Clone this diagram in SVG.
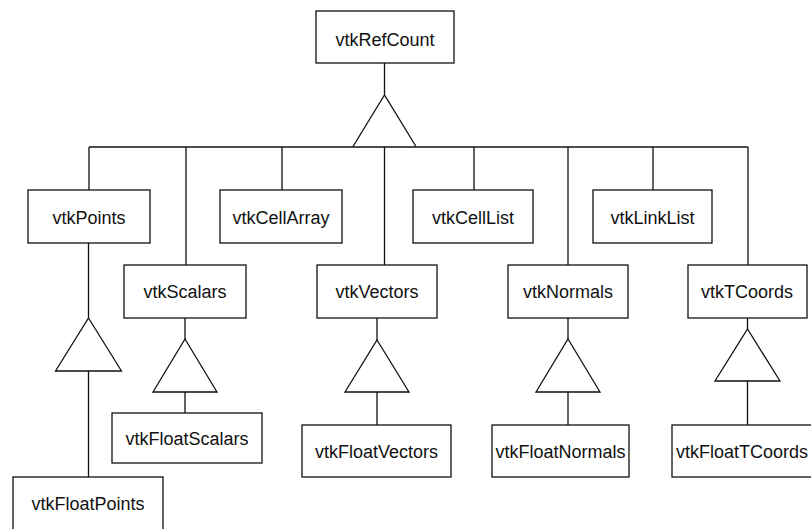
<svg xmlns="http://www.w3.org/2000/svg" width="811" height="529" viewBox="0 0 811 529">
<style>
  .box { fill: #ffffff; stroke: #111111; stroke-width: 1.3; }
  .ln { fill: none; stroke: #111111; stroke-width: 1.3; stroke-linejoin: miter; }
  .lbl { font-family: "Liberation Sans", Arial, Helvetica, sans-serif; font-size: 18px; fill: #111111; text-anchor: middle; }
</style>
<rect width="811" height="529" fill="#ffffff"/>
<g id="connectors">
  <path class="ln" d="M384.5 62 V95 M353 146.5 L384.5 95 L416 146.5"/>
  <path class="ln" d="M89 147 H748"/>
  <path class="ln" d="M89 147 V190 M186 147 V265 M282 147 V190 M384.5 147 V265 M474 147 V190 M568 147 V265 M653 147 V190 M748 147 V265"/>
  <path class="ln" d="M88.5 243 V318 M88.5 371 V477"/>
  <polygon class="ln" points="88.5,318 121.5,371 55.5,371"/>
  <path class="ln" d="M185 318 V339 M185 392 V413"/>
  <polygon class="ln" points="185,339 217,392 153,392"/>
  <path class="ln" d="M377 318 V340 M377 392 V425"/>
  <polygon class="ln" points="377,340 409,392 345,392"/>
  <path class="ln" d="M568 318 V339 M568 392 V425"/>
  <polygon class="ln" points="568,339 600,392 536,392"/>
  <path class="ln" d="M747.5 318 V329 M747.5 381 V425"/>
  <polygon class="ln" points="747.5,329 780,381 715,381"/>
</g>
<g id="vtkRefCount">
  <rect class="box" x="316" y="11" width="138" height="52"/>
  <text class="lbl" x="385" y="45.5" font-size="19">vtkRefCount</text>
</g>
<g id="vtkPoints">
  <rect class="box" x="28" y="190" width="122" height="53"/>
  <text class="lbl" x="89" y="223.5">vtkPoints</text>
</g>
<g id="vtkCellArray">
  <rect class="box" x="220" y="190" width="122" height="53"/>
  <text class="lbl" x="281" y="223.5">vtkCellArray</text>
</g>
<g id="vtkCellList">
  <rect class="box" x="413" y="190" width="120" height="53"/>
  <text class="lbl" x="473" y="223.5">vtkCellList</text>
</g>
<g id="vtkLinkList">
  <rect class="box" x="593" y="190" width="119" height="53"/>
  <text class="lbl" x="652.5" y="223.5">vtkLinkList</text>
</g>
<g id="vtkScalars">
  <rect class="box" x="124" y="265" width="122" height="53"/>
  <text class="lbl" x="185" y="298">vtkScalars</text>
</g>
<g id="vtkVectors">
  <rect class="box" x="317" y="265" width="120" height="53"/>
  <text class="lbl" x="377" y="298">vtkVectors</text>
</g>
<g id="vtkNormals">
  <rect class="box" x="508" y="265" width="120" height="53"/>
  <text class="lbl" x="568" y="298">vtkNormals</text>
</g>
<g id="vtkTCoords">
  <rect class="box" x="688" y="265" width="119" height="53"/>
  <text class="lbl" x="747" y="298">vtkTCoords</text>
</g>
<g id="vtkFloatPoints">
  <rect class="box" x="13" y="477" width="150" height="54"/>
  <text class="lbl" x="88" y="509.5">vtkFloatPoints</text>
</g>
<g id="vtkFloatScalars">
  <rect class="box" x="112" y="413" width="150" height="50"/>
  <text class="lbl" x="187" y="444.5">vtkFloatScalars</text>
</g>
<g id="vtkFloatVectors">
  <rect class="box" x="302" y="425" width="149" height="52"/>
  <text class="lbl" x="376.5" y="457.5">vtkFloatVectors</text>
</g>
<g id="vtkFloatNormals">
  <rect class="box" x="492" y="425" width="137" height="52"/>
  <text class="lbl" x="560.5" y="457.5">vtkFloatNormals</text>
</g>
<g id="vtkFloatTCoords">
  <rect class="box" x="672" y="425" width="145" height="52"/>
  <text class="lbl" x="676" y="457.5" style="text-anchor:start">vtkFloatTCoords</text>
</g>
</svg>
